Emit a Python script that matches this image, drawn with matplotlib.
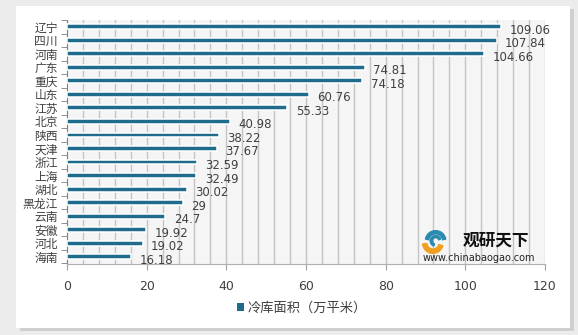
import matplotlib.pyplot as plt
from matplotlib.patches import Rectangle, Patch, Wedge

plt.rcParams['font.family'] = ['Noto Sans CJK SC', 'DejaVu Sans']

# 各省冷库面积（万平米）
provinces = ['辽宁', '四川', '河南', '广东', '重庆', '山东', '江苏', '北京', '陕西',
             '天津', '浙江', '上海', '湖北', '黑龙江', '云南', '安徽', '河北', '海南']
areas = [109.06, 107.84, 104.66, 74.81, 74.18, 60.76, 55.33, 40.98, 38.22,
         37.67, 32.59, 32.49, 30.02, 29, 24.7, 19.92, 19.02, 16.18]
area_labels = ['109.06', '107.84', '104.66', '74.81', '74.18', '60.76', '55.33', '40.98', '38.22',
               '37.67', '32.59', '32.49', '30.02', '29', '24.7', '19.92', '19.02', '16.18']
x_ticks = [0, 20, 40, 60, 80, 100, 120]

bar_color = '#1f6b8c'
text_color = '#404040'

fig = plt.figure(figsize=(5.78, 3.35), dpi=100)
fig.patch.set_facecolor('#ececec')

# 白色底板和阴影
fig.add_artist(Rectangle((20 / 578, 1 - 331 / 335), 554 / 578, 322 / 335,
                         transform=fig.transFigure, facecolor='#cfcfcf',
                         edgecolor='none', zorder=-2))
fig.add_artist(Rectangle((16 / 578, 1 - 328 / 335), 554 / 578, 322 / 335,
                         transform=fig.transFigure, facecolor='white',
                         edgecolor='none', zorder=-1))

ax = fig.add_axes([67 / 578, 1 - 263.5 / 335, 478 / 578, 243.5 / 335])
ax.set_facecolor('#f5f5f5')

y = list(range(len(provinces)))
ax.barh(y, areas, height=0.36, color=bar_color, edgecolor='white', linewidth=1.1, zorder=3)

for yi, v, lab in zip(y, areas, area_labels):
    ax.annotate(lab, (v, yi), xytext=(6, -2.5), textcoords='offset points',
                va='center', ha='left', fontsize=8.5, color=text_color,
                family=['DejaVu Sans'])

ax.set_xlim(0, 120)
ax.set_ylim(len(provinces) - 0.5, -0.5)

# 每4个单位一条竖向网格线
for gx in range(4, 121, 4):
    ax.axvline(gx, color='#c4c4c4', linewidth=1, zorder=1)

ax.set_xticks(x_ticks)
ax.set_xticklabels([str(t) for t in x_ticks], fontsize=9, color=text_color,
                   family=['DejaVu Sans'])
ax.set_yticks(y)
ax.set_yticklabels(provinces, fontsize=8.5, color=text_color)
ax.set_yticks([i + 0.5 for i in range(-1, len(provinces))], minor=True)
ax.tick_params(axis='y', which='major', length=0, pad=6.5)
ax.tick_params(axis='y', which='minor', length=4, color='#808080')
ax.tick_params(axis='x', length=4, color='#a0a0a0', pad=8)

for s in ['top', 'right']:
    ax.spines[s].set_visible(False)
ax.spines['left'].set_color('#808080')
ax.spines['bottom'].set_color('#b0b0b0')

fig.legend(handles=[Patch(facecolor=bar_color, label='冷库面积（万平米）')],
           loc='center', bbox_to_anchor=(302 / 578, 1 - 308 / 335), frameon=False,
           handlelength=0.55, handleheight=0.55, handletextpad=0.3,
           prop={'size': 9.5}, labelcolor=text_color)

# 水印
fig.text(496 / 578, 1 - 241 / 335, '观研天下', ha='center', va='center',
         fontsize=12, fontweight='bold', color='#111111')
fig.text(479 / 578, 1 - 258 / 335, 'www.chinabaogao.com', ha='center', va='center',
         fontsize=7, color='#222222', family=['DejaVu Sans'])
logo = fig.add_axes([421 / 578, 1 - 254 / 335, 26 / 578, 24 / 335])
logo.set_xlim(-1.2, 1.2)
logo.set_ylim(-1.1, 1.1)
logo.set_aspect('equal')
logo.axis('off')
logo.add_patch(Wedge((0.15, 0.1), 0.95, 10, 170, width=0.3, color='#2a8ab0'))
logo.add_patch(Wedge((0.15, 0.1), 0.5, 20, 250, width=0.2, color='#2a8ab0'))
logo.add_patch(Wedge((-0.1, -0.1), 0.95, 185, 345, width=0.4, color='#f0a020'))

fig.savefig('out.png', dpi=100, facecolor=fig.get_facecolor())
